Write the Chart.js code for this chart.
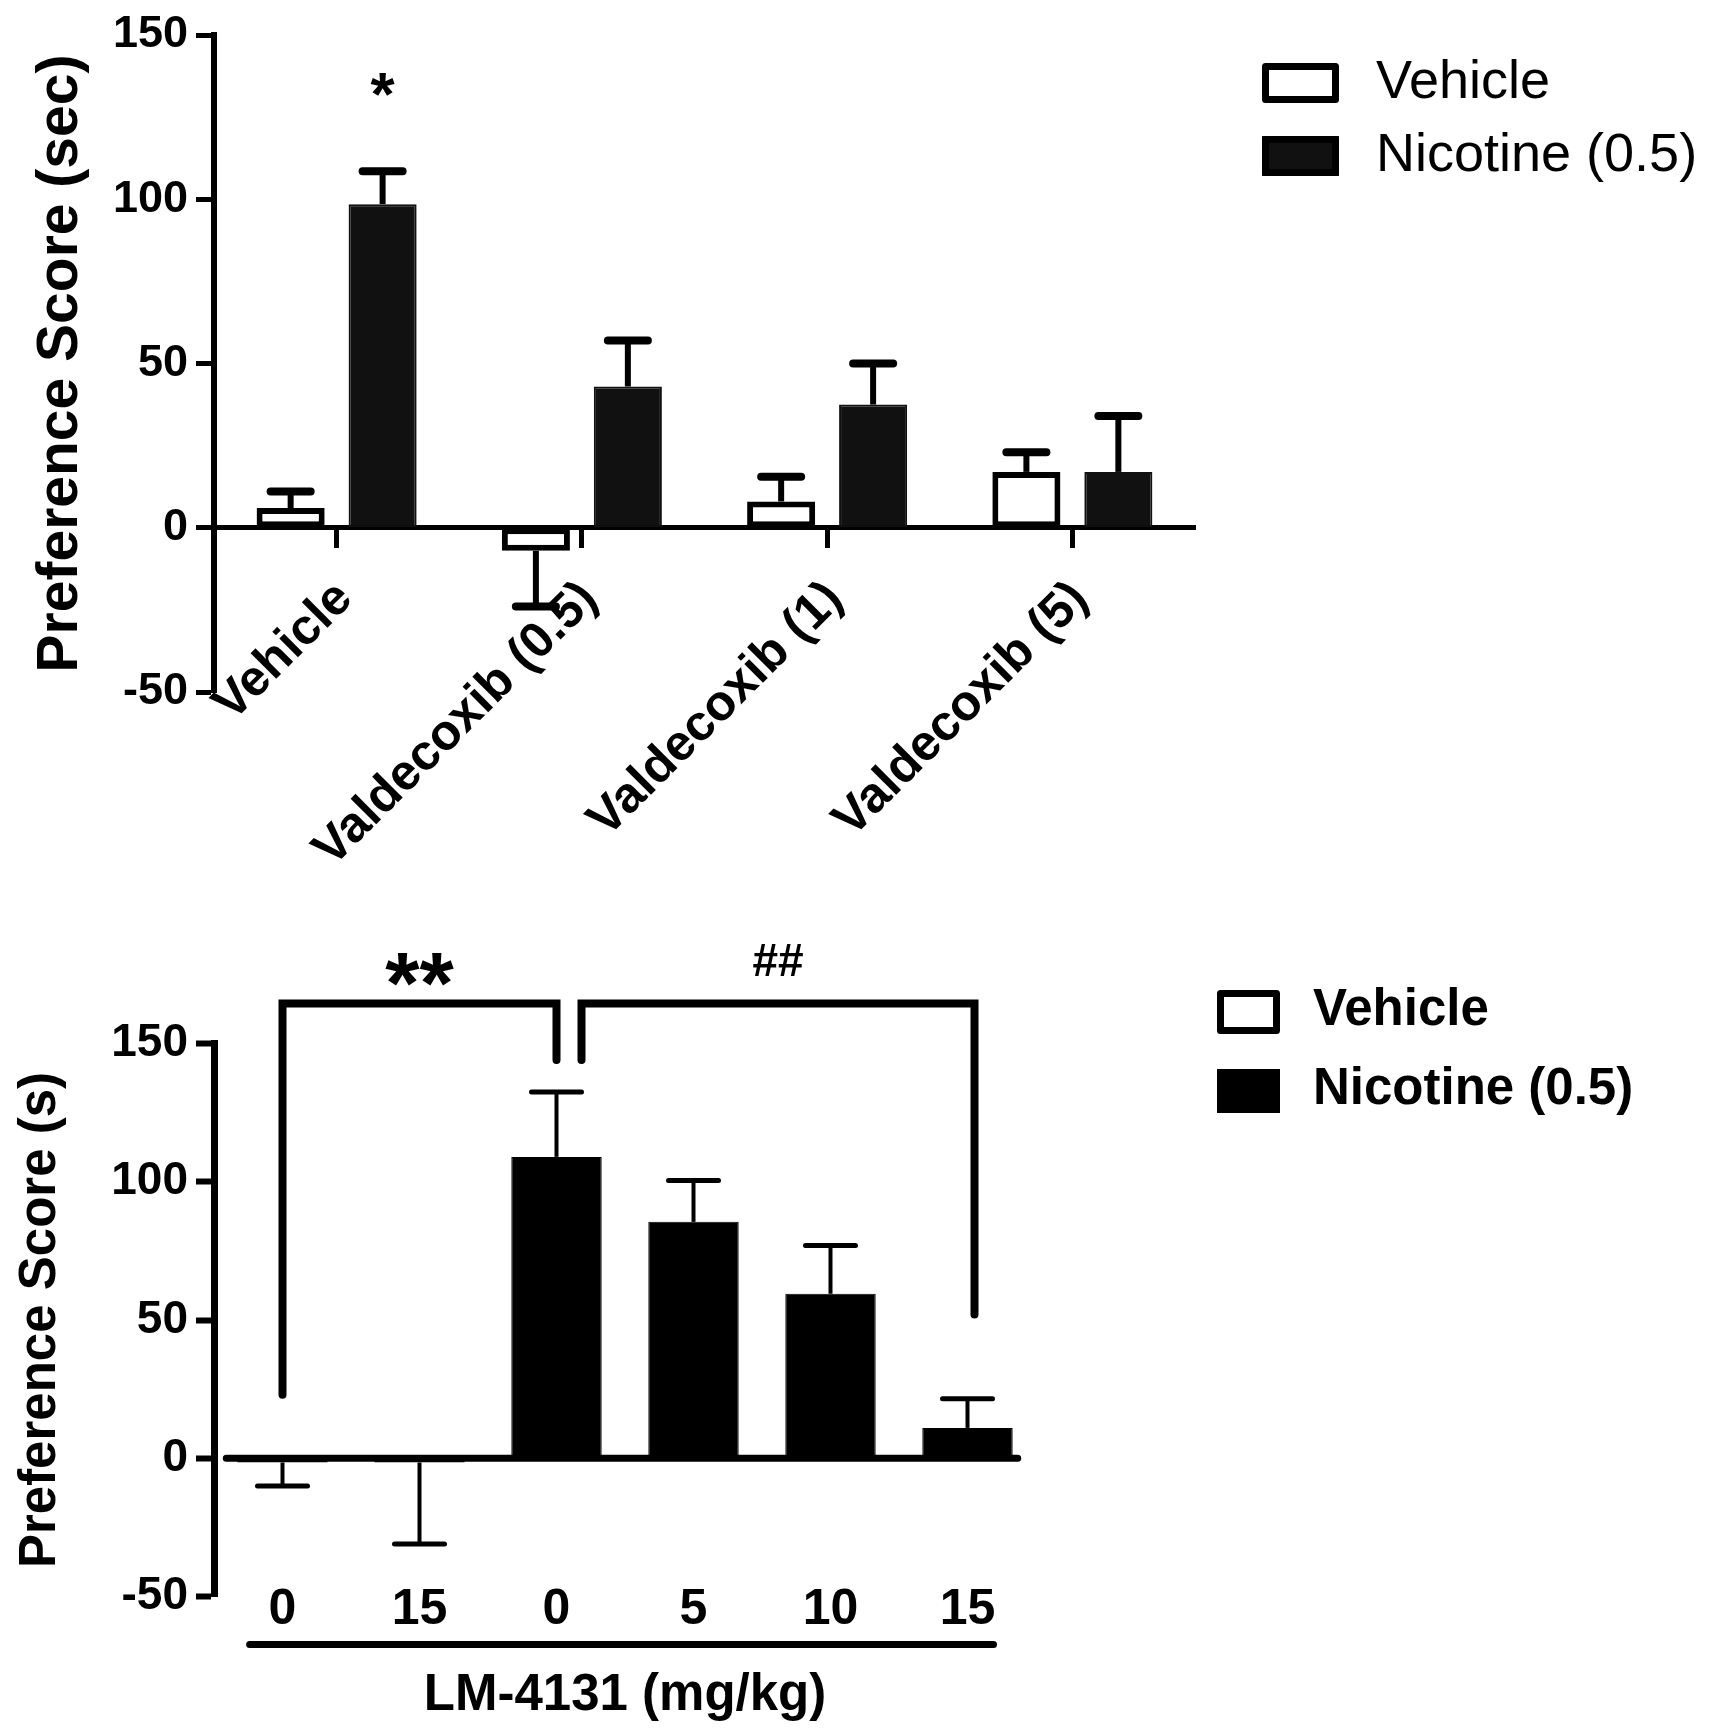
<!DOCTYPE html>
<html><head><meta charset="utf-8">
<script src="https://cdn.jsdelivr.net/npm/chart.js@4.4.0/dist/chart.umd.min.js"></script>
<style>
html,body{margin:0;padding:0;background:#fff;}
#wrap{position:relative;width:1716px;height:1731px;background:#fff;}
canvas{position:absolute;left:0;}
#c1{top:0;} #c2{top:880px;}
</style></head><body>
<div id="wrap"><canvas id="c1" width="1716" height="880"></canvas><canvas id="c2" width="1716" height="851"></canvas></div>
<script>
const FONT = "'Liberation Sans', Arial, Helvetica, sans-serif";

// ---------- Panel A (Valdecoxib) ----------
const aCategories = ['Vehicle', 'Valdecoxib (0.5)', 'Valdecoxib (1)', 'Valdecoxib (5)'];
const aVehicle = [6, -7, 8, 17];
const aVehicleSem = [5, 17, 7.5, 6];
const aNicotine = [98.5, 43, 37.5, 17];
const aNicotineSem = [10, 14, 12.5, 17];
const aYMin = -50, aYMax = 150, aYStep = 50;
const aStars = [{dataset: 1, index: 0, y: 125.5, text: '*'}];

// ---------- Panel B (LM-4131) ----------
const bCategories = ['0', '15', '0', '5', '10', '15'];
const bVehicle = [-1.5, -1.5, null, null, null, null];
const bVehicleSem = [8.5, 29.5, null, null, null, null];
const bNicotine = [null, null, 109, 85.5, 59.5, 11];
const bNicotineSem = [null, null, 23.5, 15, 17.5, 10.5];
const bYMin = -50, bYMax = 150, bYStep = 50;
const bBrackets = [
  {from: 0, to: 2, y: 164.5, leftEnd: 23, rightEnd: 144, text: '**'},
  {from: 2, to: 5, y: 164.5, leftEnd: 144, rightEnd: 52, text: '##'}
];

// ---------- plugins ----------
const errorBars = {
  id: 'errorBars',
  afterDatasetsDraw(chart, args, o) {
    const ctx = chart.ctx, ys = chart.scales.y;
    chart.data.datasets.forEach((ds, di) => {
      if (!ds.errors) return;
      const meta = chart.getDatasetMeta(di);
      meta.data.forEach((bar, i) => {
        const v = ds.data[i], e = ds.errors[i];
        if (v == null || e == null) return;
        const dir = v < 0 ? -1 : 1;
        const y0 = ys.getPixelForValue(v), y1 = ys.getPixelForValue(v + dir * e);
        ctx.save();
        ctx.strokeStyle = '#000';
        ctx.lineWidth = o.stemWidth;
        ctx.beginPath(); ctx.moveTo(bar.x, y0); ctx.lineTo(bar.x, y1); ctx.stroke();
        ctx.lineWidth = o.capWidth; ctx.lineCap = 'round';
        ctx.beginPath(); ctx.moveTo(bar.x - o.capSize / 2, y1); ctx.lineTo(bar.x + o.capSize / 2, y1); ctx.stroke();
        ctx.restore();
      });
    });
  }
};

const boxLegend = {
  id: 'boxLegend',
  afterDraw(chart, args, o) {
    const ctx = chart.ctx;
    chart.data.datasets.forEach((ds, i) => {
      const top = o.top + i * o.step;
      ctx.save();
      ctx.fillStyle = ds.backgroundColor;
      ctx.fillRect(o.left, top, o.boxW, o.boxH);
      ctx.lineWidth = o.border; ctx.strokeStyle = '#000'; ctx.lineJoin = 'round';
      ctx.strokeRect(o.left + o.border / 2, top + o.border / 2, o.boxW - o.border, o.boxH - o.border);
      ctx.fillStyle = '#000'; ctx.font = o.font; ctx.textBaseline = 'middle'; ctx.textAlign = 'left';
      ctx.fillText(ds.label, o.textLeft, top + o.boxH / 2 + o.textDy);
      ctx.restore();
    });
  }
};

const starMarks = {
  id: 'starMarks',
  afterDatasetsDraw(chart, args, o) {
    if (!o.items) return;
    const ctx = chart.ctx, ys = chart.scales.y;
    o.items.forEach(it => {
      const bar = chart.getDatasetMeta(it.dataset).data[it.index];
      ctx.save(); ctx.fillStyle = '#000'; ctx.font = o.font;
      ctx.textAlign = 'center'; ctx.textBaseline = 'alphabetic';
      ctx.fillText(it.text, bar.x, ys.getPixelForValue(it.y));
      ctx.restore();
    });
  }
};

const brackets = {
  id: 'brackets',
  afterDraw(chart, args, o) {
    if (!o.items) return;
    const ctx = chart.ctx, xs = chart.scales.x, ys = chart.scales.y;
    o.items.forEach((b, k) => {
      const x1 = xs.getPixelForValue(b.from) + (k > 0 ? o.gap : 0);
      const x2 = xs.getPixelForValue(b.to) + (k === o.items.length - 1 ? o.extend : 0);
      const yt = ys.getPixelForValue(b.y);
      ctx.save(); ctx.strokeStyle = '#000'; ctx.lineWidth = o.lineWidth; ctx.lineCap = 'round'; ctx.lineJoin = 'miter';
      ctx.beginPath();
      ctx.moveTo(x1, ys.getPixelForValue(b.leftEnd)); ctx.lineTo(x1, yt); ctx.lineTo(x2, yt); ctx.lineTo(x2, ys.getPixelForValue(b.rightEnd));
      ctx.stroke();
      const f = o.fonts[b.text] || o.fonts.default;
      ctx.fillStyle = '#000'; ctx.font = f.font; ctx.textAlign = 'center'; ctx.textBaseline = 'alphabetic';
      ctx.fillText(b.text, (x1 + x2) / 2, yt - f.lift);
      ctx.restore();
    });
  }
};

const zeroLine = {
  id: 'zeroLine',
  beforeDatasetsDraw(chart, args, o) {
    if (!o.show) return;
    const ctx = chart.ctx, ys = chart.scales.y;
    let l = Infinity, r = -Infinity;
    chart.data.datasets.forEach((ds, di) => {
      chart.getDatasetMeta(di).data.forEach((bar, i) => {
        if (ds.data[i] == null) return;
        l = Math.min(l, bar.x - bar.width / 2); r = Math.max(r, bar.x + bar.width / 2);
      });
    });
    const y = ys.getPixelForValue(0);
    ctx.save(); ctx.strokeStyle = '#000'; ctx.lineWidth = o.width; ctx.lineCap = 'round';
    ctx.beginPath(); ctx.moveTo(l - o.padL, y); ctx.lineTo(r + o.padR, y); ctx.stroke();
    // group underline below the dose labels
    const xs = chart.scales.x, n = chart.data.labels.length;
    const cw = xs.getPixelForValue(1) - xs.getPixelForValue(0);
    const uy = ys.getPixelForValue(ys.min) + o.underOffset;
    ctx.lineWidth = o.underWidth;
    ctx.beginPath(); ctx.moveTo(xs.getPixelForValue(0) - cw * 0.24, uy); ctx.lineTo(xs.getPixelForValue(n - 1) + cw * 0.19, uy); ctx.stroke();
    ctx.restore();
  }
};

Chart.register(errorBars, boxLegend, starMarks, brackets, zeroLine);

// ---------- Chart A ----------
new Chart(document.getElementById('c1'), {
  type: 'bar',
  data: {
    labels: aCategories,
    datasets: [
      {label: 'Vehicle', data: aVehicle, errors: aVehicleSem, backgroundColor: '#ffffff', borderColor: '#000', borderWidth: 6, borderSkipped: false},
      {label: 'Nicotine (0.5)', data: aNicotine, errors: aNicotineSem, backgroundColor: '#111111', borderColor: '#111', borderWidth: 2, borderSkipped: false}
    ]
  },
  options: {
    responsive: false, animation: false, devicePixelRatio: 1,
    datasets: {bar: {categoryPercentage: 0.75, barPercentage: 0.74}},
    layout: {padding: {left: 0, right: 521, top: 35, bottom: 188}},
    plugins: {
      legend: {display: false}, tooltip: {enabled: false},
      errorBars: {stemWidth: 6, capWidth: 8, capSize: 40},
      boxLegend: {left: 1262, top: 63, step: 73, boxW: 77, boxH: 40, border: 7, textLeft: 1376, textDy: 0, font: 'normal 54px ' + FONT},
      starMarks: {items: aStars, font: 'bold 62px ' + FONT},
      zeroLine: {show: false}
    },
    scales: {
      x: {
        type: 'category', position: {y: 0}, offset: true,
        grid: {display: true, drawOnChartArea: false, drawTicks: true, tickLength: 18, tickWidth: 5, tickColor: '#000', offset: false},
        border: {display: true, color: '#000', width: 5},
        ticks: {color: '#000', font: {family: FONT, size: 50, weight: 'bold'}, minRotation: 45, maxRotation: 45, autoSkip: false, padding: 24, labelOffset: 8},
        afterFit(s) { s.height = 0; }
      },
      y: {
        min: aYMin, max: aYMax,
        ticks: {stepSize: aYStep, color: '#000', font: {family: FONT, size: 45, weight: 'bold'}, padding: 8},
        grid: {display: true, drawOnChartArea: false, drawTicks: true, tickLength: 18, tickWidth: 5, tickColor: '#000'},
        border: {display: true, color: '#000', width: 6},
        title: {display: true, text: 'Preference Score (sec)', color: '#000', font: {family: FONT, size: 57, weight: 'bold'}, padding: {top: 27, bottom: 0}},
        afterFit(s) { s.width = 214; }
      }
    }
  }
});

// ---------- Chart B ----------
new Chart(document.getElementById('c2'), {
  type: 'bar',
  data: {
    labels: bCategories,
    datasets: [
      {label: 'Vehicle', data: bVehicle, errors: bVehicleSem, backgroundColor: '#ffffff', borderColor: '#000', borderWidth: 5, borderSkipped: false},
      {label: 'Nicotine (0.5)', data: bNicotine, errors: bNicotineSem, backgroundColor: '#000000', borderColor: '#000', borderWidth: 1, borderSkipped: false}
    ]
  },
  options: {
    responsive: false, animation: false, devicePixelRatio: 1,
    datasets: {bar: {categoryPercentage: 1, barPercentage: 0.66}},
    layout: {padding: {left: 0, right: 680, top: 163.5, bottom: 134.4}},
    plugins: {
      legend: {display: false}, tooltip: {enabled: false},
      errorBars: {stemWidth: 4, capWidth: 5, capSize: 50},
      boxLegend: {left: 1217, top: 110, step: 79, boxW: 63, boxH: 44, border: 7, textLeft: 1313, textDy: -1, font: 'bold 51px ' + FONT},
      brackets: {items: bBrackets, gap: 25, extend: 7, lineWidth: 8,
        fonts: {'**': {font: 'bold 88px ' + FONT, lift: -10}, '##': {font: 'bold 46px ' + FONT, lift: 27}, default: {font: 'bold 50px ' + FONT, lift: 20}}},
      zeroLine: {show: true, width: 7, padL: 11, padR: 5, underOffset: 48, underWidth: 7}
    },
    scales: {
      x: {
        type: 'category', position: {y: -50}, offset: true, stacked: true,
        grid: {display: false, drawTicks: false},
        border: {display: false},
        ticks: {color: '#000', font: {family: FONT, size: 50, weight: 'bold'}, minRotation: 0, maxRotation: 0, autoSkip: false, padding: -16},
        title: {display: true, text: 'LM-4131 (mg/kg)', color: '#000', font: {family: FONT, size: 51, weight: 'bold'}, padding: {top: 0, bottom: 4}},
        afterFit(s) { s.height = 134.4; }
      },
      y: {
        min: bYMin, max: bYMax,
        ticks: {stepSize: bYStep, color: '#000', font: {family: FONT, size: 46, weight: 'bold'}, padding: 8},
        grid: {display: true, drawOnChartArea: false, drawTicks: true, tickLength: 18, tickWidth: 6, tickColor: '#000'},
        border: {display: true, color: '#000', width: 7},
        title: {display: true, text: 'Preference Score (s)', color: '#000', font: {family: FONT, size: 51, weight: 'bold'}, padding: {top: 10, bottom: 0}},
        afterFit(s) { s.width = 214; }
      }
    }
  }
});
</script>
</body></html>
